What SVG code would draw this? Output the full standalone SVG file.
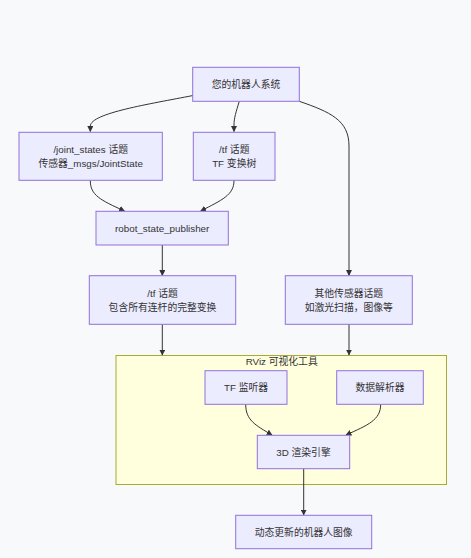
<svg xmlns="http://www.w3.org/2000/svg" width="471" height="558" viewBox="0 0 471 558">
<defs>
<style>
.node rect{fill:#ECECFF;stroke:#9370DB;stroke-width:1}
.cluster rect{fill:#ffffde;stroke:#aaaa33;stroke-width:1}
text{font-family:"Liberation Sans","Noto Sans CJK SC",sans-serif;font-size:9.8px;fill:#333;text-anchor:middle}
.edges path{fill:none;stroke:#333;stroke-width:1}
</style>
<marker id="arr" viewBox="0 0 10 10" refX="9" refY="5" markerWidth="6" markerHeight="6" orient="auto" markerUnits="userSpaceOnUse">
<path d="M0,0 L10,5 L0,10 z" fill="#333"/>
</marker>
</defs>
<rect width="471" height="558" fill="#f8f9fa"/>
<g id="cluster-rviz" class="cluster">
<rect x="116" y="355.5" width="330.5" height="129"/>
<text x="281.7" y="365">RViz 可视化工具</text>
</g>
<g class="edges">
<path d="M193,95.5 C150,104 91,113 90.3,126 L90.3,131.5" marker-end="url(#arr)"/>
<path d="M239.3,101.3 C236,112 234,118 234,125 L234,131.5" marker-end="url(#arr)"/>
<path d="M299.3,101.3 C330,112 349,120 349,146 L349,275.5" marker-end="url(#arr)"/>
<path d="M90.3,180.5 C90.3,195 100,200 124.5,211" marker-end="url(#arr)"/>
<path d="M234,180.5 C234,195 222,200 200.7,211" marker-end="url(#arr)"/>
<path d="M162.3,245 L162.3,275.5" marker-end="url(#arr)"/>
<path d="M162.3,324.3 L162.3,355" marker-end="url(#arr)"/>
<path d="M349,324.3 L349,355" marker-end="url(#arr)"/>
<path d="M245.7,404.3 C245.7,420 255,425 272,435" marker-end="url(#arr)"/>
<path d="M380.7,404.3 C380.7,420 368,425 346,435" marker-end="url(#arr)"/>
<path d="M303.7,468.7 L303.7,515" marker-end="url(#arr)"/>
</g>
<g id="robot" class="node">
<rect x="192.7" y="67.3" width="106.6" height="34"/>
<text x="246" y="87.5">您的机器人系统</text>
</g>
<g id="joint" class="node">
<rect x="19" y="132.3" width="143.3" height="48"/>
<text x="90.7" y="152.5">/joint_states 话题</text>
<text x="90.7" y="167">传感器_msgs/JointState</text>
</g>
<g id="tf" class="node">
<rect x="193.3" y="132.3" width="81.7" height="48"/>
<text x="234.2" y="152.5">/tf 话题</text>
<text x="234.2" y="167">TF 变换树</text>
</g>
<g id="rsp" class="node">
<rect x="96" y="211.3" width="132.3" height="33.7"/>
<text x="162.2" y="231.5">robot_state_publisher</text>
</g>
<g id="tf2" class="node">
<rect x="89.3" y="275.7" width="146.4" height="48.6"/>
<text x="162.5" y="296.5">/tf 话题</text>
<text x="162.5" y="311">包含所有连杆的完整变换</text>
</g>
<g id="sensors" class="node">
<rect x="285.3" y="275.7" width="127" height="48.6"/>
<text x="348.8" y="296.5">其他传感器话题</text>
<text x="348.8" y="311">如激光扫描，图像等</text>
</g>
<g id="tflistener" class="node">
<rect x="205" y="370.7" width="82" height="33.6"/>
<text x="246" y="391">TF 监听器</text>
</g>
<g id="parser" class="node">
<rect x="336.7" y="370.7" width="86.6" height="33.6"/>
<text x="380" y="391">数据解析器</text>
</g>
<g id="render" class="node">
<rect x="257.3" y="435.3" width="92.4" height="33.4"/>
<text x="303.5" y="455.5">3D 渲染引擎</text>
</g>
<g id="output" class="node">
<rect x="235.7" y="515.3" width="136" height="33.4"/>
<text x="303.7" y="535.5">动态更新的机器人图像</text>
</g>
</svg>
